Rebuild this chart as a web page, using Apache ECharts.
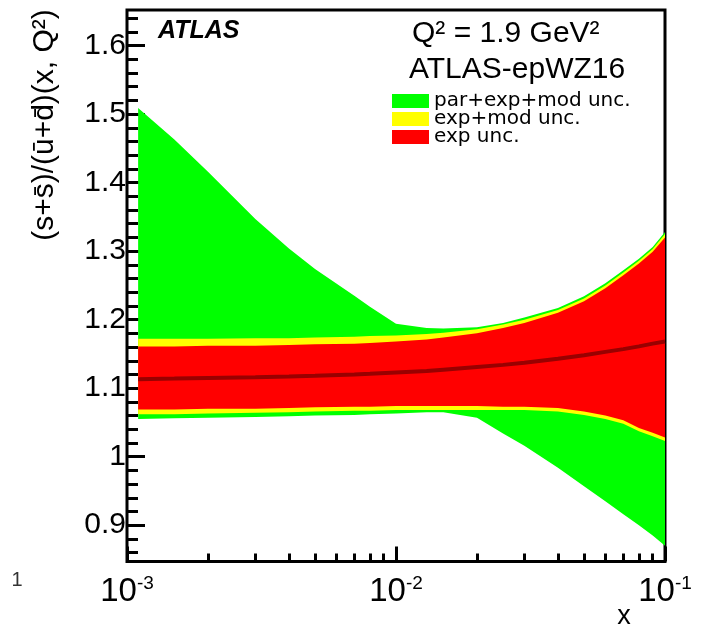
<!DOCTYPE html>
<html>
<head>
<meta charset="utf-8">
<script src="https://cdn.jsdelivr.net/npm/echarts@6/dist/echarts.min.js"></script>
<style>
html, body { margin: 0; padding: 0; background: #fff; }
#chart { width: 701px; height: 627px; }
</style>
</head>
<body>
<div id="chart"></div>
<script>
// x grid and band edges
var xs       = [0.0011, 0.0015, 0.002, 0.003, 0.004, 0.005, 0.007, 0.008, 0.01, 0.013, 0.015, 0.02, 0.025, 0.03, 0.04, 0.05, 0.06, 0.07, 0.08, 0.09, 0.1];
var parHi    = [1.509, 1.463, 1.416, 1.347, 1.304, 1.274, 1.235, 1.219, 1.194, 1.188, 1.187, 1.189, 1.195, 1.203, 1.217, 1.234, 1.253, 1.272, 1.289, 1.306, 1.328];
var parLo    = [1.055, 1.056, 1.057, 1.058, 1.059, 1.060, 1.061, 1.062, 1.063, 1.065, 1.065, 1.057, 1.034, 1.016, 0.984, 0.957, 0.935, 0.916, 0.900, 0.885, 0.870];
var modHi    = [1.172, 1.172, 1.172, 1.173, 1.173, 1.174, 1.175, 1.176, 1.177, 1.179, 1.181, 1.186, 1.193, 1.200, 1.214, 1.231, 1.250, 1.269, 1.286, 1.303, 1.325];
var modLo    = [1.062, 1.062, 1.063, 1.064, 1.065, 1.066, 1.067, 1.067, 1.068, 1.068, 1.068, 1.068, 1.068, 1.068, 1.066, 1.061, 1.055, 1.048, 1.037, 1.030, 1.023];
var expHi    = [1.161, 1.161, 1.162, 1.162, 1.163, 1.164, 1.165, 1.166, 1.168, 1.171, 1.174, 1.180, 1.188, 1.195, 1.210, 1.227, 1.246, 1.265, 1.282, 1.299, 1.320];
var expLo    = [1.069, 1.069, 1.070, 1.070, 1.071, 1.072, 1.073, 1.073, 1.074, 1.074, 1.074, 1.074, 1.073, 1.073, 1.071, 1.066, 1.060, 1.053, 1.042, 1.035, 1.028];
var central  = [1.113, 1.114, 1.115, 1.116, 1.117, 1.118, 1.120, 1.121, 1.123, 1.125, 1.127, 1.131, 1.134, 1.137, 1.143, 1.148, 1.153, 1.157, 1.161, 1.165, 1.168];

// ticks
var yLabels  = [0.9, 1.0, 1.1, 1.2, 1.3, 1.4, 1.5, 1.6];
var yMinor   = [0.86, 0.88, 0.90, 0.92, 0.94, 0.96, 0.98, 1.00, 1.02, 1.04, 1.06, 1.08, 1.10, 1.12, 1.14, 1.16, 1.18, 1.20,
                1.22, 1.24, 1.26, 1.28, 1.30, 1.32, 1.34, 1.36, 1.38, 1.40, 1.42, 1.44, 1.46, 1.48, 1.50, 1.52, 1.54, 1.56, 1.58, 1.60, 1.62, 1.64];
var xMajor   = [0.001, 0.01, 0.1];
var xMinor   = [0.002, 0.003, 0.004, 0.005, 0.006, 0.007, 0.008, 0.009, 0.02, 0.03, 0.04, 0.05, 0.06, 0.07, 0.08, 0.09];

var legendNames = ['par+exp+mod unc.', 'exp+mod unc.', 'exp unc.'];

function band(name, color, lo, hi) {
	return {
		name: name,
		type: 'custom',
		silent: true,
		itemStyle: { color: color },
		data: xs.map(function (x, i) { return [x, lo[i], hi[i]]; }),
		encode: { x: 0, y: [1, 2] },
		renderItem: function (params, api) {
			// one polygon for the whole band
			if (params.dataIndex !== 0) return null;
			var top = [], bot = [];
			for (var i = 0; i < xs.length; i++) {
				top.push(api.coord([xs[i], hi[i]]));
				bot.unshift(api.coord([xs[i], lo[i]]));
			}
			return { type: 'polygon', shape: { points: top.concat(bot) }, style: { fill: color } };
		}
	};
}

var chart = echarts.init(document.getElementById('chart'));
var yMin = 0.847, yMax = 1.652;

var option = {
	animation: false,
	grid: { left: 127, top: 10, width: 538, height: 551.5, show: true, borderColor: '#000', borderWidth: 3, backgroundColor: 'transparent' },
	legend: {
		orient: 'vertical', left: 392, top: 91, padding: 0,
		itemWidth: 37, itemHeight: 14, itemGap: -2, icon: 'rect',
		selectedMode: false,
		data: legendNames,
		textStyle: { fontFamily: 'DejaVu Sans', fontSize: 20, lineHeight: 16, color: '#000' }
	},
	xAxis: [
		{
			type: 'log', logBase: 10, min: 0.001, max: 0.1, position: 'bottom',
			axisLine: { show: false },
			splitLine: { show: false },
			axisTick: { inside: true, length: 15, customValues: xMajor, lineStyle: { color: '#000', width: 3 } },
			axisLabel: {
				customValues: xMajor, margin: 13,
				formatter: function (v) { return '{b|10}{s|' + Math.round(Math.log10(v)) + '}'; },
				rich: {
					b: { fontFamily: 'Liberation Sans', fontSize: 33, color: '#000', lineHeight: 34 },
					s: { fontFamily: 'Liberation Sans', fontSize: 19, color: '#000', verticalAlign: 'top', lineHeight: 20, padding: [0, 0, 14, 0] }
				}
			}
		},
		{
			type: 'log', logBase: 10, min: 0.001, max: 0.1, position: 'bottom',
			axisLine: { show: false }, splitLine: { show: false }, axisLabel: { show: false },
			axisTick: { inside: true, length: 8, customValues: xMinor, lineStyle: { color: '#000', width: 3 } }
		}
	],
	yAxis: [
		{
			type: 'value', min: yMin, max: yMax, position: 'left',
			axisLine: { show: false }, splitLine: { show: false },
			axisTick: { inside: true, length: 18, customValues: yLabels, lineStyle: { color: '#000', width: 3 } },
			axisLabel: {
				customValues: yLabels, margin: 1,
				fontFamily: 'Liberation Sans', fontSize: 30, color: '#000',
				formatter: function (v) { return String(Math.round(v * 10) / 10); }
			}
		},
		{
			type: 'value', min: yMin, max: yMax, position: 'left',
			axisLine: { show: false }, splitLine: { show: false }, axisLabel: { show: false },
			axisTick: { inside: true, length: 11, customValues: yMinor, lineStyle: { color: '#000', width: 3 } }
		}
	],
	series: [
		band(legendNames[0], '#00ff00', parLo, parHi),
		band(legendNames[1], '#ffff00', modLo, modHi),
		band(legendNames[2], '#ff0000', expLo, expHi),
		{
			name: 'central', type: 'line', silent: true, symbol: 'none',
			data: xs.map(function (x, i) { return [x, central[i]]; }),
			lineStyle: { color: '#990000', width: 4 }
		}
	],
	graphic: [
		{ type: 'text', x: 158, y: 31, style: { text: 'ATLAS', font: 'italic bold 25px "Liberation Sans"', fill: '#000', textVerticalAlign: 'middle' } },
		{ type: 'text', x: 412, y: 34, style: { text: 'Q² = 1.9 GeV²', font: '30px "Liberation Sans"', fill: '#000', textVerticalAlign: 'middle' } },
		{ type: 'text', x: 409, y: 70, style: { text: 'ATLAS-epWZ16', font: '30px "Liberation Sans"', fill: '#000', textVerticalAlign: 'middle' } },
		{ type: 'text', x: 45, y: 125, rotation: Math.PI / 2, style: { text: '(s+s\u0304)/(\u016b+d\u0304)(x, Q²)', font: '30px "Liberation Sans"', fill: '#000', textAlign: 'center', textVerticalAlign: 'middle' } },
		{ type: 'text', x: 624, y: 617, style: { text: 'x', font: '27px "Liberation Sans"', fill: '#000', textAlign: 'center', textVerticalAlign: 'middle' } },
		{ type: 'text', x: 17, y: 580, style: { text: '1', font: '20px "Liberation Sans"', fill: '#333', textAlign: 'center', textVerticalAlign: 'middle' } }
	]
};

chart.setOption(option);
</script>
</body>
</html>
